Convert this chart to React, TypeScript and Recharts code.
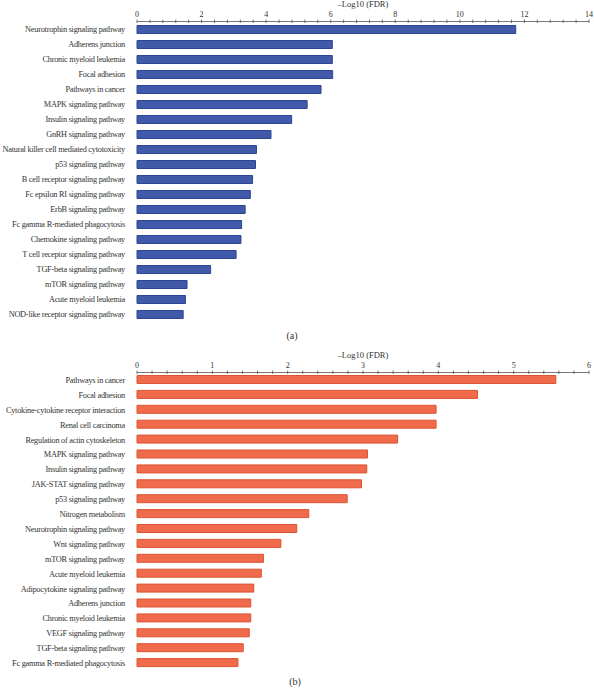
import { BarChart, Bar, XAxis, YAxis, Label } from "recharts";

const pathwaysA = [
  "Neurotrophin signaling pathway",
  "Adherens junction",
  "Chronic myeloid leukemia",
  "Focal adhesion",
  "Pathways in cancer",
  "MAPK signaling pathway",
  "Insulin signaling pathway",
  "GnRH signaling pathway",
  "Natural killer cell mediated cytotoxicity",
  "p53 signaling pathway",
  "B cell receptor signaling pathway",
  "Fc epsilon RI signaling pathway",
  "ErbB signaling pathway",
  "Fc gamma R-mediated phagocytosis",
  "Chemokine signaling pathway",
  "T cell receptor signaling pathway",
  "TGF-beta signaling pathway",
  "mTOR signaling pathway",
  "Acute myeloid leukemia",
  "NOD-like receptor signaling pathway",
];
const fdrA = [
  11.73, 6.05, 6.05, 6.06, 5.7, 5.27, 4.79, 4.15, 3.7, 3.67, 3.58, 3.51, 3.35,
  3.24, 3.22, 3.07, 2.28, 1.55, 1.5, 1.43,
];

const pathwaysB = [
  "Pathways in cancer",
  "Focal adhesion",
  "Cytokine-cytokine receptor interaction",
  "Renal cell carcinoma",
  "Regulation of actin cytoskeleton",
  "MAPK signaling pathway",
  "Insulin signaling pathway",
  "JAK-STAT signaling pathway",
  "p53 signaling pathway",
  "Nitrogen metabolism",
  "Neurotrophin signaling pathway",
  "Wnt signaling pathway",
  "mTOR signaling pathway",
  "Acute myeloid leukemia",
  "Adipocytokine signaling pathway",
  "Adherens junction",
  "Chronic myeloid leukemia",
  "VEGF signaling pathway",
  "TGF-beta signaling pathway",
  "Fc gamma R-mediated phagocytosis",
];
const fdrB = [
  5.56, 4.52, 3.97, 3.97, 3.46, 3.06, 3.05, 2.98, 2.79, 2.28, 2.12, 1.91, 1.68,
  1.65, 1.55, 1.51, 1.51, 1.49, 1.41, 1.34,
];

const AXIS_TITLE = "\u2013Log10 (FDR)";
const FONT = "'Liberation Serif', 'DejaVu Serif', serif";
const INK = "#333";

// minor ticks: 5 sub-steps per labelled step
function minorTicks(max: number, major: number) {
  const step = major / 5;
  const n = Math.round(max / step);
  return Array.from({ length: n + 1 }, (_, i) => +(i * step).toFixed(4));
}

function TopTick({ x, y, payload, major }: any) {
  const v = payload.value;
  const isMajor = Math.abs(v / major - Math.round(v / major)) < 1e-6;
  return (
    <g>
      <line x1={x} x2={x} y1={y - 2} y2={y + 1.5} stroke="#555" strokeWidth={0.8} />
      {isMajor && (
        <text x={x} y={y - 5} textAnchor="middle" fontSize={8} fill={INK} fontFamily={FONT}>
          {v}
        </text>
      )}
    </g>
  );
}

function NameTick({ x, y, payload }: any) {
  return (
    <text
      x={x - 4}
      y={y}
      dy={3}
      textAnchor="end"
      fontSize={8.3}
      letterSpacing={-0.25}
      fill={INK}
      fontFamily={FONT}
    >
      {payload.value}
    </text>
  );
}

function Panel({
  names,
  values,
  max,
  major,
  fill,
  stroke,
  height,
}: {
  names: string[];
  values: number[];
  max: number;
  major: number;
  fill: string;
  stroke: string;
  height: number;
}) {
  const data = names.map((name, i) => ({ name, value: values[i] }));
  return (
    <BarChart
      width={594}
      height={height}
      data={data}
      layout="vertical"
      margin={{ top: 0, right: 5, bottom: 0, left: 0 }}
      barSize={8}
    >
      <XAxis
        type="number"
        orientation="top"
        domain={[0, max]}
        ticks={minorTicks(max, major)}
        interval={0}
        height={21.5}
        tickSize={0}
        tickMargin={0}
        tickLine={false}
        axisLine={{ stroke: "#555", strokeWidth: 0.8 }}
        tick={(p: any) => <TopTick {...p} major={major} />}
      >
        <Label
          value={AXIS_TITLE}
          position="insideTop"
          offset={1}
          style={{ fontSize: 8.5, fill: INK, fontFamily: FONT }}
        />
      </XAxis>
      <YAxis
        type="category"
        dataKey="name"
        width={137}
        axisLine={false}
        tickLine={false}
        interval={0}
        tick={<NameTick />}
      />
      <Bar dataKey="value" fill={fill} stroke={stroke} strokeWidth={1} isAnimationActive={false} />
    </BarChart>
  );
}

export default function App() {
  return (
    <div style={{ position: "absolute", left: 0, top: 0, width: 594, height: 688, background: "#fff" }}>
      <div style={{ position: "absolute", left: 0, top: 0 }}>
        <Panel names={pathwaysA} values={fdrA} max={14} major={2} fill="#4059a9" stroke="#2c4693" height={321.5} />
      </div>
      <div style={{ position: "absolute", left: 0, top: 351 }}>
        <Panel names={pathwaysB} values={fdrB} max={6} major={1} fill="#ef6b4b" stroke="#dc5433" height={319.5} />
      </div>
      <div style={{ position: "absolute", left: 280, top: 330, width: 24, textAlign: "center", fontSize: 10, fontFamily: FONT, color: INK }}>
        (a)
      </div>
      <div style={{ position: "absolute", left: 283, top: 676, width: 24, textAlign: "center", fontSize: 10, fontFamily: FONT, color: INK }}>
        (b)
      </div>
    </div>
  );
}
